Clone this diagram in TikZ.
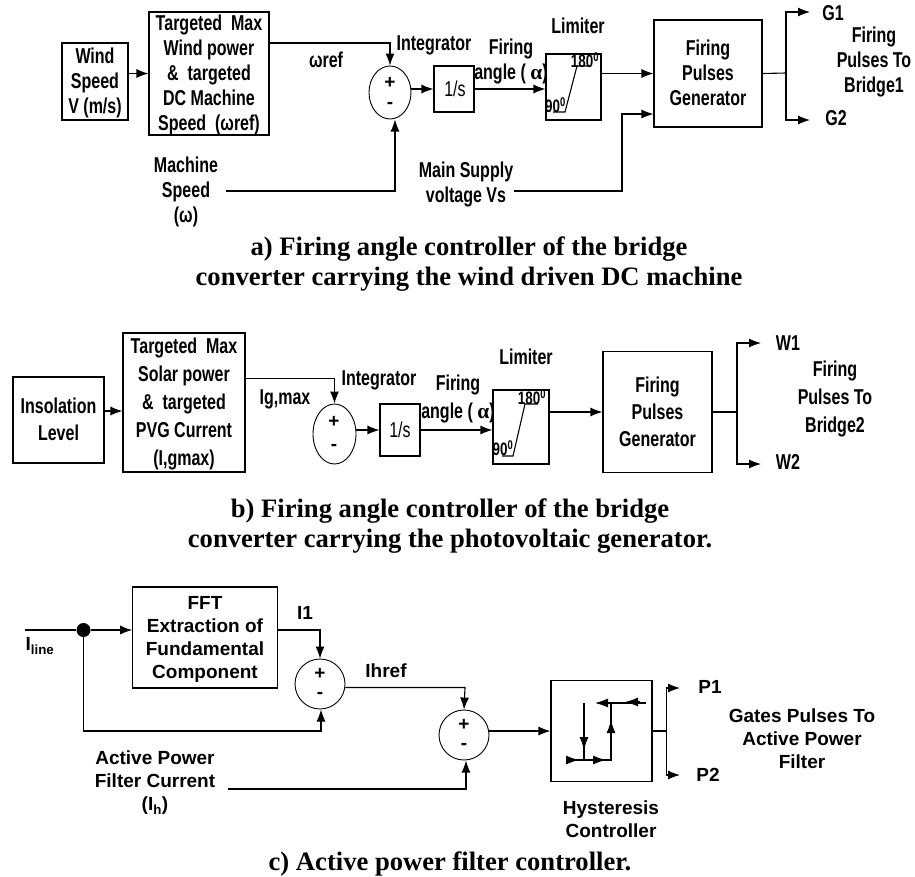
\documentclass[tikz,border=0pt]{standalone}
\usepackage{fontspec}
\setmainfont{Liberation Sans}
\newfontfamily\narrowfont[FakeStretch=0.745]{Liberation Sans}
\newfontfamily\titlefont{Liberation Serif}
\usetikzlibrary{arrows.meta}
\usetikzlibrary{shapes.geometric}
\tikzset{
  boxnode/.style={draw,line width=1.1pt,inner sep=0pt},
  sumnode/.style={draw,ellipse,line width=0.9pt,inner sep=0pt},
  lbl/.style={inner sep=0pt,align=center,font=\narrowfont\bfseries\fontsize{21.5}{25}\selectfont},
  lblc/.style={inner sep=0pt,align=center,font=\bfseries\fontsize{19}{23}\selectfont},
  small/.style={inner sep=0pt,font=\narrowfont\bfseries\fontsize{18}{18}\selectfont},
  sign/.style={inner sep=0pt,font=\bfseries\fontsize{19}{19}\selectfont},
  caption/.style={inner sep=0pt,align=center,font=\titlefont\bfseries\fontsize{26.6}{30}\selectfont},
  con/.style={line width=1.1pt},
  arw/.style={line width=1.1pt,-{Latex[length=12pt,width=9pt]}},
  hyarw/.style={line width=1.1pt,-{Latex[length=13pt,width=9pt]}},
}
\begin{document}
\begin{tikzpicture}[x=1pt,y=-1pt]
\useasboundingbox (0,0) rectangle (915,876);
%wind panel
\node[boxnode,minimum width=66pt,minimum height=77pt] (wind) at (95,81.5) {};
\node[lbl] (windt) at (95,82.5) {Wind\\Speed\\V (m/s)};
\node[boxnode,minimum width=120pt,minimum height=123pt] (tgta) at (209,73.5) {};
\node[lbl] (tgtat) at (209,75) {Targeted\ \ Max\\Wind power\\\&\ \ targeted\\DC Machine\\Speed\ \ (ωref)};
\node[sumnode,minimum width=42pt,minimum height=53pt] (suma) at (390,92.5) {};
\node[sign] (sumap) at (390,83) {+};
\node[sign] (sumam) at (390,105) {-};
\node[boxnode,minimum width=40pt,minimum height=46pt] (inta) at (454,89) {};
\node[inner sep=0pt,font=\narrowfont\fontsize{21.5}{20}\selectfont] (intat) at (455,89) {1/s};
\node[boxnode,minimum width=55pt,minimum height=66pt] (lima) at (573.5,87) {};
\node[boxnode,minimum width=108pt,minimum height=107pt] (gena) at (708,73.5) {};
\node[lbl] (genat) at (708,73) {Firing\\Pulses\\Generator};
\node[lbl] (wrefa) at (326,60) {ωref};
\node[lbl] (intla) at (434,45) {Integrator};
\node[lbl] (fira) at (511,61.5) {Firing\\angle ( {\titlefont α})};
\node[lbl] (limla) at (578,26) {Limiter};
\node[lbl] (msp) at (186,192) {Machine\\Speed\\(ω)};
\node[lbl] (mains) at (466,184.5) {Main Supply\\voltage Vs};
\node[lbl] (g1) at (833,13) {G1};
\node[lbl] (g2) at (836,118) {G2};
\node[lbl] (pulsa) at (874,61.5) {Firing\\Pulses To\\Bridge1};
\node[small] (t180a) at (585,60) {180\textsuperscript{0}};
\node[small] (t90a) at (555.5,105) {90\textsuperscript{0}};
\coordinate (mspin) at (226,191);
\coordinate (mainin) at (514,191);
\coordinate (busa) at (786,73);
\coordinate (busat) at (786,12);
\coordinate (busab) at (786,120);
\coordinate (g1in) at (810,12);
\coordinate (g2in) at (810,120);

\draw[arw] (wind.east |- tgta.west) -- (tgta.west);
\draw[arw] (tgta.east |- 0,43) -- (suma.north |- 0,43) -- (suma.north);
\draw[arw] (suma.east |- inta.west) -- (inta.west);
\draw[arw] (inta.east) -- (lima.west |- inta.east);
\draw[arw] (lima.east |- gena.west) -- (gena.west);
\draw[arw] (mspin) -- (395,191) -- (395,119.5);
\draw[arw] (mainin) -- (622,191) -- (622,114) -- (gena.west |- 0,114);
\draw[con] (gena.east) -- (busa);
\draw[arw] (busa) -- (busat) -- (g1in);
\draw[arw] (busa) -- (busab) -- (g2in);
%limiter curve
\draw[con] (553,112) -- (565,112) -- (577,66) -- (590,66);
\node[caption] (capa) at (469,264.5) {a) Firing angle controller of the bridge\\converter carrying the wind driven DC machine};

%solar panel
\node[boxnode,minimum width=91pt,minimum height=86pt] (ins) at (58.5,420) {};
\node[lbl] (inst) at (58.5,419.5) {Insolation\\[2pt]Level};
\node[boxnode,minimum width=122pt,minimum height=139pt] (tgtb) at (184,402.5) {};
\node[lbl,align=center] (tgtbt) at (184,404) {Targeted\ \ Max\\[3pt]Solar power\\[3pt]\&\ \ targeted\\[3pt]PVG Current\\[3pt](I,gmax)};
\node[sumnode,minimum width=43pt,minimum height=60pt] (sumb) at (334.5,434) {};
\node[sign] (sumbp) at (334,422) {+};
\node[sign] (sumbm) at (334,447) {-};
\node[boxnode,minimum width=40pt,minimum height=52pt] (intb) at (400,430) {};
\node[inner sep=0pt,font=\narrowfont\fontsize{21.5}{20}\selectfont] (intbt) at (400,430) {1/s};
\node[boxnode,minimum width=56pt,minimum height=74pt] (limb) at (521,427) {};
\node[boxnode,minimum width=109pt,minimum height=121.5pt] (genb) at (657.5,412) {};
\node[lbl] (genbt) at (657.5,412) {Firing\\[2pt]Pulses\\[2pt]Generator};
\node[lbl] (igm) at (285,399) {Ig,max};
\node[lbl] (intlb) at (379,380) {Integrator};
\node[lbl] (firb) at (458,399) {Firing\\[3pt]angle ( {\titlefont α})};
\node[lbl] (limlb) at (526,357) {Limiter};
\node[lbl] (w1) at (788,343) {W1};
\node[lbl] (w2) at (788,462) {W2};
\node[lbl] (pulsb) at (835,399) {Firing\\[3pt]Pulses To\\[3pt]Bridge2};
\node[small] (t180b) at (532,397) {180\textsuperscript{0}};
\node[small] (t90b) at (503,448) {90\textsuperscript{0}};
\coordinate (busb) at (737,412);
\coordinate (busbt) at (737,343);
\coordinate (busbb) at (737,464);
\coordinate (w1in) at (761,343);
\coordinate (w2in) at (761,464);

\draw[arw] (ins.east |- 0,411) -- (tgtb.west |- 0,411);
\draw[arw] (tgtb.east |- 0,378.5) -- (sumb.north |- 0,378.5) -- (sumb.north);
\draw[arw] (sumb.east |- intb.west) -- (intb.west);
\draw[arw] (intb.east) -- (limb.west |- intb.east);
\draw[arw] (limb.east |- genb.west) -- (genb.west);
\draw[con] (genb.east) -- (busb);
\draw[arw] (busb) -- (busbt) -- (w1in);
\draw[arw] (busb) -- (busbb) -- (w2in);
%limiter curve
\draw[con] (502,456) -- (513,456) -- (525,404) -- (538,404);
\node[caption] (capb) at (450,526) {b) Firing angle controller of the bridge\\converter carrying the photovoltaic generator.};

%filter panel
\node[boxnode,minimum width=144.5pt,minimum height=101pt] (fft) at (205,637.5) {};
\node[lblc] (fftt) at (205,639) {FFT\\Extraction of\\Fundamental\\Component};
\node[sumnode,minimum width=50pt,minimum height=50pt] (sumc) at (320,684) {};
\node[sign] (sumcp) at (320,674) {+};
\node[sign] (sumcm) at (320,695) {-};
\node[sumnode,minimum width=50pt,minimum height=50pt] (sumd) at (464,735) {};
\node[sign] (sumdp) at (464,725) {+};
\node[sign] (sumdm) at (464,746) {-};
\node[boxnode,minimum width=101pt,minimum height=101.5pt] (hys) at (601.5,731) {};
\node[circle,fill=black,minimum size=14pt,inner sep=0pt] (dot) at (83.5,630) {};
\node[lblc] (iline) at (40,646) {I\textsubscript{line}};
\node[lblc] (i1) at (305,613) {I1};
\node[lblc] (ihref) at (386,671) {Ihref};
\node[lblc] (apf) at (155,782.5) {Active Power\\Filter Current\\(I\textsubscript{h})};
\node[lblc] (hyst) at (611,819.5) {Hysteresis\\Controller};
\node[lblc] (p1) at (710,687) {P1};
\node[lblc] (p2) at (708,775) {P2};
\node[lblc] (gates) at (802,739) {Gates Pulses To\\Active Power\\Filter};
\coordinate (lin) at (25,630);
\coordinate (apfin) at (228,789);
\coordinate (busc) at (666.5,731);
\coordinate (busct) at (666.5,688);
\coordinate (buscb) at (666.5,775);
\coordinate (p1in) at (680,688);
\coordinate (p2in) at (680,775);

\draw[con] (lin) -- (dot);
\draw[arw] (dot) -- (fft.west |- dot);
\draw[arw] (fft.east |- dot) -- (sumc.north |- dot) -- (sumc.north);
\draw[arw] (dot) -- (dot |- 0,731) -- (321,731) -- (321,709.5);
\draw[arw] (sumc.east |- 0,687.5) -- (465,687.5) -- (sumd.north);
\draw[arw] (apfin) -- (466,789) -- (466,760.5);
\draw[arw] (sumd.east |- hys.west) -- (hys.west);
\draw[con] (hys.east) -- (busc);
\draw[arw] (busc) -- (busct) -- (p1in);
\draw[arw] (busc) -- (buscb) -- (p2in);
%hysteresis loop
\draw[con] (566,760) -- (611,760) -- (611,703) -- (646,703);
\draw[con] (584,703) -- (584,760);
\draw[hyarw] (566,760) -- (579,760);
\draw[hyarw] (592,760) -- (606,760);
\draw[hyarw] (611,735) -- (611,720);
\draw[hyarw] (611,703) -- (595,703);
\draw[hyarw] (640,702) -- (625,702);
\draw[hyarw] (584,735) -- (584,750);
\node[caption] (capc) at (450,864) {c) Active power filter controller.};
\end{tikzpicture}
\end{document}
